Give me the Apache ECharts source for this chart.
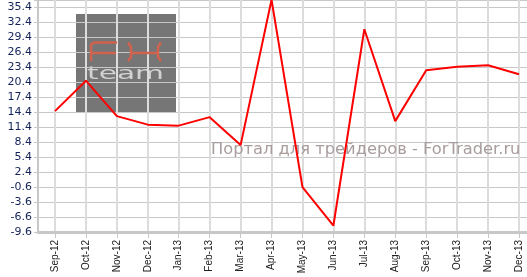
<!DOCTYPE html>
<html><head><meta charset="utf-8">
<script src="https://cdn.jsdelivr.net/npm/echarts@6/dist/echarts.min.js"></script>
<style>html,body{margin:0;padding:0;background:#fff}#c{width:527px;height:277px}</style>
</head><body><div id="c"></div>
<script>
const categories = ['Sep-12','Oct-12','Nov-12','Dec-12','Jan-13','Feb-13','Mar-13','Apr-13','May-13','Jun-13','Jul-13','Aug-13','Sep-13','Oct-13','Nov-13','Dec-13'];
const values = [14.6, 20.7, 13.6, 11.9, 11.7, 13.4, 7.8, 36.9, -0.6, -8.3, 31.0, 12.6, 22.8, 23.5, 23.8, 22.0];
const yMin = -9.6;      // lowest tick label
const yStep = 3;        // tick step
const yTop = 36.86;     // top of plot area

const off = -yMin;
const shifted = values.map(v => v + off);
const yLabel = v => {
  const k = v / yStep;
  if (Math.abs(k - Math.round(k)) > 1e-6) return '';
  return (v - off).toFixed(1);
};

const red = '#d0624e';
const chart = echarts.init(document.getElementById('c'), null, {renderer: 'canvas'});
chart.setOption({
  animation: false,
  backgroundColor: '#fff',
  grid: [
    {left: 38, right: 0, top: 0, bottom: 45, containLabel: false},
    {left: 55, right: 8, top: 0, bottom: 45, containLabel: false}
  ],
  xAxis: [
    {gridIndex: 0, type: 'value', min: 0, max: 1, interval: 1,
     axisLine: {show: true, onZero: false, lineStyle: {color: '#c8c8c8', width: 3}},
     axisTick: {show: false}, axisLabel: {show: false}, splitLine: {show: false}},
    {gridIndex: 1, type: 'category', data: categories, boundaryGap: false,
     axisLine: {show: false, onZero: false},
     axisTick: {show: true, length: 6, lineStyle: {color: '#c8c8c8', width: 1}},
     splitLine: {show: true, lineStyle: {color: '#dcdcdc', width: 2}},
     axisLabel: {rotate: 90, margin: 8, fontSize: 10, color: '#222', fontFamily: 'Liberation Sans', interval: 0}}
  ],
  yAxis: [
    {gridIndex: 0, type: 'value', min: 0, max: yTop + off, interval: yStep,
     axisLine: {show: true, lineStyle: {color: '#c8c8c8', width: 2}},
     axisTick: {show: true, length: 4, lineStyle: {color: '#c8c8c8'}},
     splitLine: {show: true, lineStyle: {color: '#c8c8c8', width: 1}},
     axisLabel: {margin: 6, fontSize: 11, color: '#13235a', fontFamily: 'DejaVu Sans', formatter: yLabel}},
    {gridIndex: 1, type: 'value', min: 0, max: yTop + off, interval: yStep, show: false}
  ],
  graphic: [
    {type: 'rect', z: -1, shape: {x: 76, y: 14, width: 100, height: 99}, style: {fill: '#767676'}},
    {type: 'polyline', z: 1, shape: {points: [[91, 61], [91, 45], [94, 42.5], [117, 42.5]]}, style: {stroke: red, lineWidth: 2.5, fill: null}},
    {type: 'line', z: 1, shape: {x1: 91, y1: 53, x2: 116, y2: 53}, style: {stroke: red, lineWidth: 2.5}},
    {type: 'polyline', z: 1, shape: {points: [[128, 42.5], [131, 47], [131, 57], [128, 61]]}, style: {stroke: red, lineWidth: 2.5, fill: null}},
    {type: 'polyline', z: 1, shape: {points: [[161, 42.5], [158, 47], [158, 57], [161, 61]]}, style: {stroke: red, lineWidth: 2.5, fill: null}},
    {type: 'line', z: 1, shape: {x1: 131, y1: 53, x2: 158, y2: 53}, style: {stroke: red, lineWidth: 2.5}},
    {type: 'text', z: -1, x: 87, y: 65, scaleX: 1.65, style: {text: 'team', fill: '#d2d2d2', font: '18px "DejaVu Sans"', textVerticalAlign: 'top'}},
    {type: 'text', z: 1, x: 211, y: 150, style: {text: 'Портал для трейдеров - ForTrader.ru', fill: '#a89c9c', font: '16.3px "DejaVu Sans"', textVerticalAlign: 'middle'}}
  ],
  series: [{
    type: 'line', xAxisIndex: 1, yAxisIndex: 1, data: shifted, symbol: 'none', clip: false, z: 5,
    lineStyle: {color: '#ff0000', width: 2}
  }]
});
</script></body></html>
